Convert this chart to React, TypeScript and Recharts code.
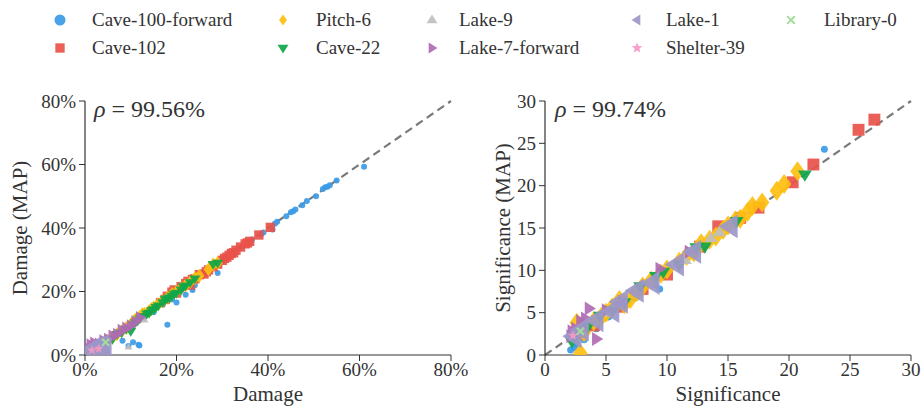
import React from 'react'
import { ScatterChart, Scatter, XAxis, YAxis, ReferenceLine } from 'recharts'

// ---- data ----
type Pt = [number, number]

const SERIES_NAMES = [
  'Cave-100-forward', 'Cave-102', 'Pitch-6', 'Cave-22', 'Lake-9',
  'Lake-7-forward', 'Lake-1', 'Shelter-39', 'Library-0',
]

const DAMAGE_TICKS = [0, 20, 40, 60, 80]
const SIGNIF_TICKS = [0, 5, 10, 15, 20, 25, 30]

// Damage vs Damage (MAP), in percent
const damageCave100: Pt[] = [
  [8.2, 4.5], [9.5, 2.8], [10.5, 4], [11.7, 3.2], [11.9, 3], [18, 9.5], [29, 25.8],
  [13, 12], [15, 13.5], [17, 16], [19, 17.5], [20, 16.5], [22, 19], [23.5, 20.5],
  [24, 22], [27, 26], [30, 29.5], [32, 32], [34, 33.8], [36.5, 36.4], [38.5, 38],
  [39, 38.6], [41, 39.5], [41.5, 41.3], [42, 42], [44, 43.7], [45, 45], [45.5, 45.3],
  [46, 45.8], [47.5, 47.2], [48.5, 48.5], [50.5, 50], [52, 52.3], [52.5, 52.8],
  [53, 53], [53.5, 53.5], [55, 55], [61, 59.3],
]
const damageCave102: Pt[] = [
  [16.5, 16.5], [17.5, 17.5], [18, 18.5], [19, 19.8], [19.5, 20.5], [20, 19.5],
  [21, 21.5], [22, 22.5], [22.5, 23.2], [23, 22], [23.5, 23.8], [24, 24], [25, 25.3],
  [26, 25.5], [26.5, 26.2], [27, 26.8], [28, 27.8], [29, 28.6], [30, 29.8], [30.5, 30.4],
  [31, 30.8], [31.5, 31.4], [32, 32], [32.5, 32.2], [33, 33], [34, 34], [35, 35],
  [35.5, 35.3], [36, 35.8], [38, 37.8], [40.5, 40.2], [1, 0.5], [0.5, 1],
]
const damagePitch6: Pt[] = [
  [0.5, 0], [1, 0.5], [1.5, 1.5], [2.5, 2], [3.5, 3], [5, 4.5], [6, 5.5], [7, 6.5],
  [8, 7.5], [9, 8.5], [10, 9.5], [10.5, 10.5], [11, 11.2], [12, 12], [12.5, 12.8],
  [13, 13], [14, 13.8], [14.5, 14.5], [15, 15], [16, 16], [17, 17], [18, 18],
  [19, 19.2], [20, 20], [21, 21], [22, 22], [23, 23], [24, 24.2], [25, 25], [27, 27],
  [28, 28.5], [29, 29],
]
const damageCave22: Pt[] = [
  [6, 5], [7, 6.5], [8, 7], [9, 8.2], [10, 7.5], [10.5, 9.5], [11, 10.2], [11.5, 10.8],
  [12, 11.5], [12.5, 12], [13, 12.2], [13.5, 13], [14, 13.2], [14.5, 14], [15, 14.3],
  [15.5, 15], [16, 15.5], [17, 16.5], [17.5, 17.5], [18, 17.8], [18.5, 18], [19, 18.6],
  [19.5, 19.2], [20, 19.5], [21, 20.5], [21.5, 21.5], [22, 21.8], [23, 22.8], [24, 24],
  [28, 28.6], [29, 29],
]
const damageLake9: Pt[] = [[9.5, 2.5], [4, 3.5], [13, 11], [2, 1.5]]
const damageLake7: Pt[] = [
  [0.8, 2], [1.2, 3.2], [2, 3.8], [3, 3.5], [4, 4.5], [5, 5], [6, 6], [7, 6.5],
  [8, 7.8], [9, 8.5], [10, 9.2], [11, 10.5], [12, 11.8], [1.5, 1],
]
const damageLake1: Pt[] = [
  [1, 1.5], [2, 2.5], [3, 3], [4, 3.5], [4.5, 2.5], [2.5, 1], [3.5, 1.8], [1.5, 0.5], [4, 1],
]
const damageShelter39: Pt[] = [[1.5, 1.5], [3, 2]]
const damageLibrary0: Pt[] = [[4.5, 4]]

// Significance vs Significance (MAP)
const signifCave100: Pt[] = [
  [22.9, 24.3], [2.1, 0.6], [2.4, 0.9], [2.6, 1.3], [3.2, 1.8], [4.2, 3.1], [5.2, 4.5],
  [6, 5.6], [6.8, 6.2], [7.3, 6.7], [9.4, 7.8], [9, 8.3], [13.3, 13], [2.8, 2.2], [11, 10.8],
]
const signifCave102: Pt[] = [
  [25.7, 26.6], [27, 27.8], [22, 22.5], [20.3, 20.4], [17.5, 17.4], [14.2, 15.2],
  [12.7, 12.8], [10, 9.5], [8, 7.8], [6, 5.7], [4, 3.5], [3, 2.5], [16, 16.2],
]
const signifPitch6: Pt[] = [
  [2.6, 3.8], [2.9, 0.2], [3.2, 2.7], [4, 4], [4.6, 4.5], [5, 5], [5.5, 5.6], [6.1, 6.5],
  [6.5, 6], [7, 6.6], [7.6, 7.5], [8, 8.1], [8.7, 8.8], [9.5, 9.6], [10, 10.1], [11, 11],
  [11.6, 11.7], [12.2, 12.1], [12.8, 13.2], [13.5, 13.6], [14, 14], [14.6, 14.8],
  [15, 15.3], [15.6, 15.9], [16, 16.1], [16.6, 16.9], [17, 17.6], [17.8, 18],
  [19, 19.4], [19.6, 20.2], [20.7, 21.7],
]
const signifCave22: Pt[] = [
  [2.2, 1.6], [3.5, 3.3], [4.5, 4.6], [5.5, 5.2], [6.5, 6.2], [7.8, 8.1], [9.1, 9.3],
  [9.7, 9.8], [11, 10.7], [12.4, 12.7], [13.1, 12.8], [15.7, 15.8], [21.3, 21.3],
]
const signifLake9: Pt[] = [[2.7, 2.8], [5, 5], [11.5, 11.2], [13.6, 13.8], [14.3, 14.5]]
const signifLake7: Pt[] = [
  [2.1, 2.2], [2.2, 2.8], [2.5, 3.1], [2.9, 4], [3.3, 4.3], [3.6, 5.5], [4.2, 1.9],
  [5, 5.3], [6.3, 6.3], [9.4, 10.2], [11.8, 12.2],
]
const signifLake1: Pt[] = [
  [2.4, 2.2], [3, 3], [4.2, 4.1], [5.5, 5.2], [6.2, 6.3], [7.5, 7.6], [8.8, 8.5],
  [10.8, 10.7], [12.2, 12.2], [15.2, 15.2],
]
const signifShelter39: Pt[] = [[2.3, 2.3]]
const signifLibrary0: Pt[] = [[2.9, 2.8]]

const DAMAGE_SETS = [
  damageCave100, damageCave102, damagePitch6, damageCave22, damageLake9,
  damageLake7, damageLake1, damageShelter39, damageLibrary0,
]
const SIGNIF_SETS = [
  signifCave100, signifCave102, signifPitch6, signifCave22, signifLake9,
  signifLake7, signifLake1, signifShelter39, signifLibrary0,
]

// ---- look ----
const FONT = '"Liberation Serif", serif'
const INK = '#333'

type Kind = 'circle' | 'square' | 'diamond' | 'down' | 'up' | 'right' | 'left' | 'star' | 'cross'
const STYLE: Array<{ color: string; kind: Kind }> = [
  { color: '#3b9be6', kind: 'circle' },
  { color: '#e8524a', kind: 'square' },
  { color: '#fdbf10', kind: 'diamond' },
  { color: '#10a64a', kind: 'down' },
  { color: '#bfbfbf', kind: 'up' },
  { color: '#b06ab3', kind: 'right' },
  { color: '#9c97c9', kind: 'left' },
  { color: '#f49ac1', kind: 'star' },
  { color: '#a3dc9a', kind: 'cross' },
]
const DAMAGE_R = [3, 5.5, 7, 5.5, 4, 6.5, 10, 5, 5]
const SIGNIF_R = [3.5, 7, 10, 7, 6.5, 7, 12, 5, 5]

function Glyph({ kind, x, y, r, fill }: { kind: Kind; x: number; y: number; r: number; fill: string }) {
  if (x == null || y == null || isNaN(x) || isNaN(y)) return null
  const poly = (pts: number[][]) => (
    <polygon points={pts.map((p) => `${x + p[0]},${y + p[1]}`).join(' ')} fill={fill} fillOpacity={0.92} />
  )
  switch (kind) {
    case 'circle':
      return <circle cx={x} cy={y} r={r} fill={fill} fillOpacity={0.92} />
    case 'square':
      return <rect x={x - r * 0.85} y={y - r * 0.85} width={r * 1.7} height={r * 1.7} fill={fill} fillOpacity={0.92} />
    case 'diamond':
      return poly([[0, -r], [r * 0.72, 0], [0, r], [-r * 0.72, 0]])
    case 'down':
      return poly([[-r, -r * 0.6], [r, -r * 0.6], [0, r]])
    case 'up':
      return poly([[-r, r * 0.6], [r, r * 0.6], [0, -r]])
    case 'right':
      return poly([[-r * 0.6, -r], [-r * 0.6, r], [r, 0]])
    case 'left':
      return poly([[r * 0.6, -r], [r * 0.6, r], [-r, 0]])
    case 'star': {
      const pts: number[][] = []
      for (let i = 0; i < 10; i++) {
        const a = -Math.PI / 2 + (i * Math.PI) / 5
        const rr = i % 2 === 0 ? r : r * 0.45
        pts.push([rr * Math.cos(a), rr * Math.sin(a)])
      }
      return poly(pts)
    }
    case 'cross':
      return (
        <g stroke={fill} strokeWidth={2}>
          <line x1={x - r * 0.7} y1={y - r * 0.7} x2={x + r * 0.7} y2={y + r * 0.7} />
          <line x1={x - r * 0.7} y1={y + r * 0.7} x2={x + r * 0.7} y2={y - r * 0.7} />
        </g>
      )
  }
  return null
}

const toRows = (pts: Pt[]) => pts.map(([x, y]) => ({ x, y }))

interface PanelProps {
  sets: Pt[][]
  radii: number[]
  max: number
  ticks: number[]
  fmt: (v: number) => string
  width: number
  right: number
}

function Panel({ sets, radii, max, ticks, fmt, width, right }: PanelProps) {
  const tickStyle = { fill: INK, fontSize: 19, fontFamily: FONT }
  return (
    <ScatterChart width={width} height={407} margin={{ top: 101, right, bottom: 0, left: 0 }} style={{ fontFamily: FONT }}>
      <XAxis
        type="number" dataKey="x" domain={[0, max]} ticks={ticks} tickFormatter={fmt}
        height={52} tick={tickStyle} tickSize={6} tickMargin={2}
        stroke={INK} axisLine={{ stroke: INK, strokeWidth: 1.2 }} allowDataOverflow interval={0}
      />
      <YAxis
        type="number" dataKey="y" domain={[0, max]} ticks={ticks} tickFormatter={fmt}
        width={85} tick={tickStyle} tickSize={6} tickMargin={3}
        stroke={INK} axisLine={{ stroke: INK, strokeWidth: 1.2 }} allowDataOverflow interval={0}
      />
      <ReferenceLine
        segment={[{ x: 0, y: 0 }, { x: max, y: max }]}
        stroke="#7a7a7a" strokeWidth={2.2} strokeDasharray="8 5" ifOverflow="visible"
      />
      {sets.map((pts, i) => (
        <Scatter
          key={SERIES_NAMES[i]}
          name={SERIES_NAMES[i]}
          data={toRows(pts)}
          isAnimationActive={false}
          fill={STYLE[i].color}
          shape={(p: any) => <Glyph kind={STYLE[i].kind} x={p.cx} y={p.cy} r={radii[i]} fill={STYLE[i].color} />}
        />
      ))}
    </ScatterChart>
  )
}

const LEGEND_COLS = [
  { mx: 60, tx: 92 }, { mx: 283, tx: 316 }, { mx: 432, tx: 459 }, { mx: 637, tx: 666 }, { mx: 791, tx: 824 },
]

function LegendBlock() {
  return (
    <>
      {SERIES_NAMES.map((name, i) => {
        const col = LEGEND_COLS[Math.floor(i / 2)]
        const cy = i % 2 === 0 ? 20 : 48
        return (
          <React.Fragment key={name}>
            <svg style={{ position: 'absolute', left: col.mx - 8, top: cy - 8 }} width={16} height={16}>
              <Glyph kind={STYLE[i].kind} x={8} y={8} r={5.5} fill={STYLE[i].color} />
            </svg>
            <div style={{ position: 'absolute', left: col.tx, top: cy - 12, fontSize: 19, lineHeight: '24px', color: INK, whiteSpace: 'nowrap' }}>
              {name}
            </div>
          </React.Fragment>
        )
      })}
    </>
  )
}

const abs = (left: number, top: number): React.CSSProperties => ({ position: 'absolute', left, top })

export default function App() {
  return (
    <div style={{ position: 'absolute', left: 0, top: 0, width: 921, height: 407, overflow: 'hidden', background: '#fff', fontFamily: FONT, color: INK }}>
      <LegendBlock />
      <div style={abs(0, 0)}>
        <Panel sets={DAMAGE_SETS} radii={DAMAGE_R} max={80} ticks={DAMAGE_TICKS} fmt={(v) => `${v}%`} width={480} right={29} />
      </div>
      <div style={abs(460, 0)}>
        <Panel sets={SIGNIF_SETS} radii={SIGNIF_R} max={30} ticks={SIGNIF_TICKS} fmt={(v) => `${v}`} width={461} right={10} />
      </div>
      {/* rho annotations */}
      <div style={{ ...abs(94, 96), fontSize: 24, whiteSpace: 'nowrap' }}><i>ρ</i> = 99.56%</div>
      <div style={{ ...abs(555, 96), fontSize: 24, whiteSpace: 'nowrap' }}><i>ρ</i> = 99.74%</div>
      {/* axis titles */}
      <div style={{ ...abs(198, 382), width: 140, textAlign: 'center', fontSize: 21, lineHeight: '24px' }}>Damage</div>
      <div style={{ ...abs(638, 382), width: 180, textAlign: 'center', fontSize: 21, lineHeight: '24px' }}>Significance</div>
      <div style={{ ...abs(20 - 90, 228 - 12), width: 180, textAlign: 'center', fontSize: 21, lineHeight: '24px', transform: 'rotate(-90deg)', whiteSpace: 'nowrap' }}>Damage (MAP)</div>
      <div style={{ ...abs(503 - 100, 228 - 12), width: 200, textAlign: 'center', fontSize: 21, lineHeight: '24px', transform: 'rotate(-90deg)', whiteSpace: 'nowrap' }}>Significance (MAP)</div>
    </div>
  )
}
